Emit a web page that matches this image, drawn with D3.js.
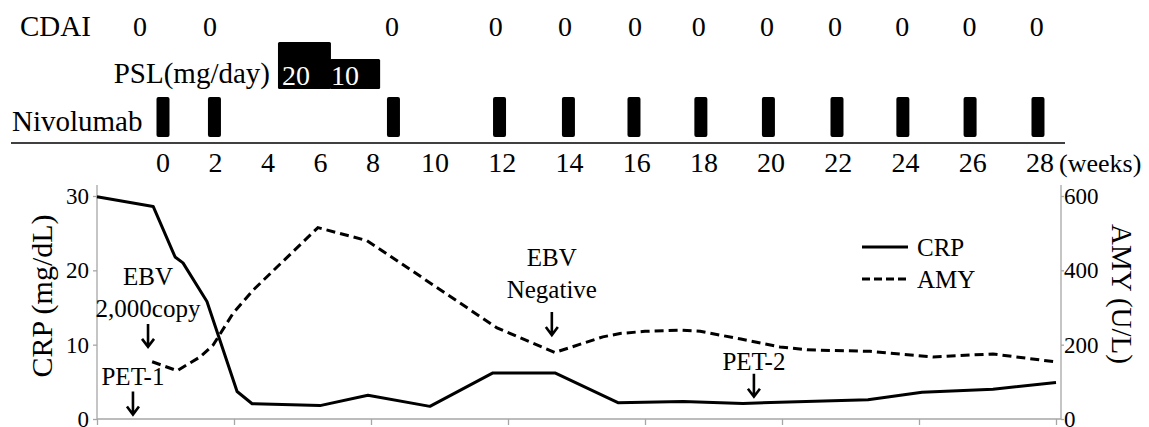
<!DOCTYPE html>
<html><head><meta charset="utf-8">
<script src="https://cdn.jsdelivr.net/npm/d3@7"></script>
<style>body{margin:0;background:#fff} svg{display:block}</style>
</head><body>
<svg id="c" width="1149" height="427"></svg>
<script>
// ---------- data ----------
const weekTicks = [0,2,4,6,8,10,12,14,16,18,20,22,24,26,28];
const cdaiWeeks = [-0.88,1.79,8.61,11.81,13.87,15.95,17.85,19.88,21.9,23.9,25.9,27.9];
const cdaiValues = [0,0,0,0,0,0,0,0,0,0,0,0];
const nivoWeeks = [0,1.96,8.66,11.92,13.97,15.92,17.91,19.92,21.96,23.92,25.92,27.94];
const pslStart = [4.38,6.36];
const pslEnd = [6.36,8.23];
const pslDose = [20,10];

const crpWeeks = [0,1.64,2.28,2.51,3.21,4.09,4.53,6.51,7.91,9.72,11.56,13.37,15.21,17.11,18.86,22.51,24.09,26.16,28];
const crpValues = [29.9,28.6,21.8,21.0,15.8,3.7,2.05,1.8,3.2,1.7,6.2,6.2,2.2,2.35,2.1,2.6,3.6,4.0,4.9];
const amyWeeks = [1.61,2.34,3.01,3.39,3.97,4.55,6.45,7.88,8.26,11.68,13.37,14.77,15.27,16.0,17.03,17.61,18.8,19.94,20.73,22.57,24.41,26.16,27.97];
const amyValues = [154,130,167,199,284,346,515,480,457,245,179,221,230,236,239,236,215,194,186,182,167,175,154];

const crpTicks = [0,10,20,30];
const amyTicks = [0,200,400,600];
const bottomTicks = [0,4,8,12,16,20,24,28];

const annoText = [["PET-1"],["EBV","2,000copy"],["EBV","Negative"],["PET-2"]];
const annoWeek = [1.05,1.49,13.28,19.18];
const annoTip = [0.6,9.7,11.3,3.0];      // arrow tip (CRP units)
const annoBase = [4.6,13.75,16.3,6.6];   // baseline of last text line (CRP units)

const legendNames = ["CRP","AMY"];

// ---------- drawing ----------
const svg = d3.select("#c");
const FONT = '"Liberation Serif"';
function txt(sel, size){
  return sel.style("font-family",FONT).style("font-size",size+"px").style("fill","#000");
}

// top timeline scale (non-uniform spacing as in the source)
const xTop = d3.scaleLinear().domain([0,8,10,28]).range([163,373,435,1040]);

// CDAI row
txt(svg.append("text").attr("x",20).attr("y",36),29).text("CDAI");
txt(svg.selectAll("text.cdai").data(cdaiWeeks).enter().append("text")
  .attr("class","cdai").attr("x",d=>xTop(d)).attr("y",36)
  .attr("text-anchor","middle"),28)
  .text((d,i)=>cdaiValues[i]);

// PSL row
txt(svg.append("text").attr("x",270).attr("y",83).attr("text-anchor","end"),29).text("PSL(mg/day)");
const pslH = d3.scaleLinear().domain([0,20]).range([13,47]);
const pslBottom = 89;
svg.selectAll("rect.psl").data(pslDose).enter().append("rect")
  .attr("class","psl")
  .attr("x",(d,i)=>xTop(pslStart[i]))
  .attr("width",(d,i)=>xTop(pslEnd[i])-xTop(pslStart[i])+(i===0?1:0))
  .attr("y",d=>pslBottom-pslH(d))
  .attr("height",d=>pslH(d))
  .attr("rx",1.5).attr("fill","#000");
txt(svg.selectAll("text.psl").data(pslDose).enter().append("text")
  .attr("class","psl")
  .attr("x",(d,i)=>xTop(pslStart[i])+(i===0?4:1))
  .attr("y",85),28).style("fill","#fff")
  .text(d=>d);

// Nivolumab row
txt(svg.append("text").attr("x",12).attr("y",131),29).text("Nivolumab");
svg.selectAll("rect.nivo").data(nivoWeeks).enter().append("rect")
  .attr("class","nivo")
  .attr("x",d=>xTop(d)-6.5).attr("y",97).attr("width",13).attr("height",40)
  .attr("rx",2).attr("fill","#000");

// timeline axis line
svg.append("line").attr("x1",11).attr("x2",1065).attr("y1",143).attr("y2",143)
  .attr("stroke","#000").attr("stroke-width",1.6);

// week labels
txt(svg.selectAll("text.wk").data(weekTicks).enter().append("text")
  .attr("class","wk").attr("x",d=>xTop(d)).attr("y",172)
  .attr("text-anchor","middle"),28).text(d=>d);
txt(svg.append("text").attr("x",xTop(28)+19).attr("y",172),26).text("(weeks)");

// ---------- bottom chart ----------
const xB = d3.scaleLinear().domain([0,28]).range([97,1056]);
const yL = d3.scaleLinear().domain([0,30]).range([419,196]);
const yR = d3.scaleLinear().domain([0,600]).range([419,196]);
const plotLeft = 97, plotRight = 1061, plotTop = 185, plotBottom = 419;
const gray = "#a6a6a6";

// axis lines
svg.append("line").attr("x1",plotLeft).attr("x2",plotLeft).attr("y1",plotTop).attr("y2",plotBottom)
  .attr("stroke",gray).attr("stroke-width",1.3);
svg.append("line").attr("x1",plotRight).attr("x2",plotRight).attr("y1",plotTop).attr("y2",plotBottom)
  .attr("stroke",gray).attr("stroke-width",1.3);
svg.append("line").attr("x1",plotLeft).attr("x2",plotRight).attr("y1",plotBottom).attr("y2",plotBottom)
  .attr("stroke",gray).attr("stroke-width",1.3);

const gL = svg.append("g").attr("transform",`translate(${plotLeft},0)`)
  .call(d3.axisLeft(yL).tickValues(crpTicks).tickSize(4).tickSizeOuter(0).tickPadding(4));
const gR = svg.append("g").attr("transform",`translate(${plotRight},0)`)
  .call(d3.axisRight(yR).tickValues(amyTicks).tickSize(3).tickSizeOuter(0).tickPadding(0));
const gB = svg.append("g").attr("transform",`translate(0,${plotBottom})`)
  .call(d3.axisBottom(xB).tickValues(bottomTicks).tickSize(6).tickSizeOuter(0).tickFormat(""));
[gL,gR,gB].forEach(g=>{
  g.select(".domain").remove();
  g.selectAll(".tick line").attr("stroke",gray).attr("stroke-width",1.3);
  txt(g.selectAll(".tick text"),23);
});

// axis titles
txt(svg.append("text").attr("transform","translate(52,296) rotate(-90)")
  .attr("text-anchor","middle"),30).text("CRP (mg/dL)");
txt(svg.append("text").attr("transform","translate(1112,294) rotate(90)")
  .attr("text-anchor","middle"),29).text("AMY (U/L)");

// lines
const crpLine = d3.line().x((d,i)=>xB(crpWeeks[i])).y(d=>yL(d));
const amyLine = d3.line().x((d,i)=>xB(amyWeeks[i])).y(d=>yR(d));
svg.append("path").datum(amyValues).attr("d",amyLine).attr("fill","none")
  .attr("stroke","#000").attr("stroke-width",3).attr("stroke-dasharray","9,5");
svg.append("path").datum(crpValues).attr("d",crpLine).attr("fill","none")
  .attr("stroke","#000").attr("stroke-width",3).attr("stroke-linejoin","round");

// legend
const lg = svg.append("g");
legendNames.forEach((n,i)=>{
  const y = 247 + i*32;
  lg.append("line").attr("x1",862).attr("x2",908).attr("y1",y).attr("y2",y)
    .attr("stroke","#000").attr("stroke-width",3)
    .attr("stroke-dasharray", i===1 ? "8,4" : null);
  txt(lg.append("text").attr("x",917).attr("y",y).attr("dy","0.34em"),25).text(n);
});

// annotations
annoText.forEach((lines,i)=>{
  const x = xB(annoWeek[i]);
  const tip = yL(annoTip[i]);
  const top = tip - 23;
  svg.append("path")
    .attr("d",`M${x},${top}V${tip}M${x-6},${tip-8}L${x},${tip}L${x+6},${tip-8}`)
    .attr("fill","none").attr("stroke","#000").attr("stroke-width",2.6);
  const base = yL(annoBase[i]);
  lines.forEach((t,j)=>{
    txt(svg.append("text").attr("x",x).attr("y",base-(lines.length-1-j)*32)
      .attr("text-anchor","middle"),25).text(t);
  });
});
</script>
</body></html>
